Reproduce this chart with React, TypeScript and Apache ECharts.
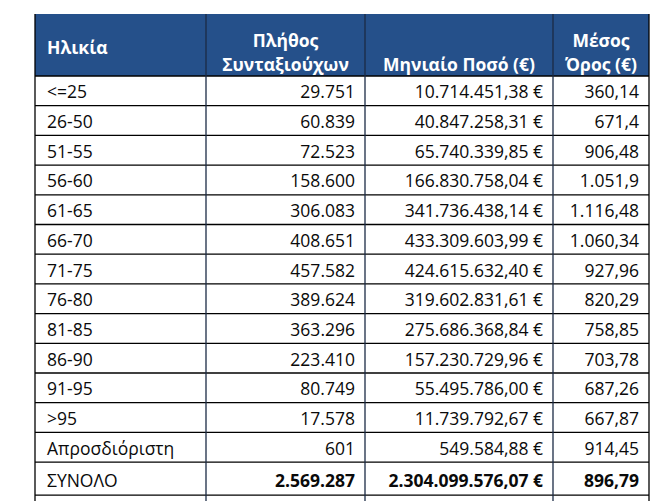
import React, { useEffect, useRef } from "react";
import * as echarts from "echarts";

const ageGroups = ["<=25", "26-50", "51-55", "56-60", "61-65", "66-70", "71-75", "76-80", "81-85", "86-90", "91-95", ">95", "Απροσδιόριστη"];
const pensioners = [29751, 60839, 72523, 158600, 306083, 408651, 457582, 389624, 363296, 223410, 80749, 17578, 601];
const monthlyAmounts = [10714451.38, 40847258.31, 65740339.85, 166830758.04, 341736438.14, 433309603.99, 424615632.40, 319602831.61, 275686368.84, 157230729.96, 55495786.00, 11739792.67, 549584.88];
const averages = [360.14, 671.4, 906.48, 1051.9, 1116.48, 1060.34, 927.96, 820.29, 758.85, 703.78, 687.26, 667.87, 914.45];
const totalLabel = "ΣΥΝΟΛΟ";
const totalPensioners = 2569287;
const totalAmount = 2304099576.07;
const totalAverage = 896.79;
const headers = [["Ηλικία"], ["Πλήθος", "Συνταξιούχων"], ["", "Μηνιαίο Ποσό (€)"], ["Μέσος", "Όρος (€)"]];

function groupThousands(intStr: string): string {
  return intStr.replace(/\B(?=(\d{3})+(?!\d))/g, ".");
}
function fmtInt(v: number): string {
  return groupThousands(Math.round(v).toString());
}
function fmtMoney(v: number): string {
  const [i, d] = v.toFixed(2).split(".");
  return groupThousands(i) + "," + d + " €";
}
function fmtAvg(v: number): string {
  let [i, d] = v.toFixed(2).split(".");
  d = d.replace(/0+$/, "");
  return groupThousands(i) + (d ? "," + d : "");
}

const FONT_FAMILY = "'Open Sans', 'Noto Sans', sans-serif";

export default function App() {
  const ref = useRef<HTMLDivElement>(null);
  useEffect(() => {
    if (!ref.current) return;
    const chart = echarts.init(ref.current, undefined, { renderer: "svg" });
    const colX = [35, 206, 365, 553, 649];
    const top = 14;
    const headerBottom = 76;
    const rowH = 29.7;
    const totalH = 33;
    const headColor = "#25508A";
    const textColor = "#0a0a0a";
    const fontSize = 17.5;
    const elements: any[] = [];

    elements.push({ type: "rect", shape: { x: colX[0], y: top, width: colX[4] - colX[0], height: headerBottom - top }, style: { fill: headColor } });

    const rowsY: number[] = [];
    for (let i = 0; i <= ageGroups.length; i++) rowsY.push(headerBottom + i * rowH);
    const bottom = rowsY[rowsY.length - 1] + totalH;

    const txt = (text: string, x: number, y: number, align: string, bold: boolean, color: string) => ({
      type: "text",
      style: {
        text, x, y, fill: color,
        font: `${bold ? "bold " : ""}${fontSize}px ${FONT_FAMILY}`,
        textAlign: align, textVerticalAlign: "middle", align, verticalAlign: "middle",
      },
    });

    elements.push(txt(headers[0][0], colX[0] + 12, 47, "left", true, "#ffffff"));
    for (let c = 1; c < 4; c++) {
      const cx = (colX[c] + colX[c + 1]) / 2;
      const lines = headers[c];
      if (lines[0]) elements.push(txt(lines[0], cx, 40, "center", true, "#ffffff"));
      elements.push(txt(lines[1], cx, 64, "center", true, "#ffffff"));
    }

    const rows: string[][] = ageGroups.map((g, i) => [g, fmtInt(pensioners[i]), fmtMoney(monthlyAmounts[i]), fmtAvg(averages[i])]);
    rows.forEach((r, i) => {
      const cy = rowsY[i] + rowH / 2 + 0.5;
      elements.push(txt(r[0], colX[0] + 12, cy, "left", false, textColor));
      for (let c = 1; c < 4; c++) elements.push(txt(r[c], colX[c + 1] - 10, cy, "right", false, textColor));
    });
    const tY = rowsY[rowsY.length - 1] + totalH / 2 + 1;
    elements.push(txt(totalLabel, colX[0] + 12, tY, "left", false, textColor));
    elements.push(txt(fmtInt(totalPensioners), colX[2] - 10, tY, "right", true, textColor));
    elements.push(txt(fmtMoney(totalAmount), colX[3] - 10, tY, "right", true, textColor));
    elements.push(txt(fmtAvg(totalAverage), colX[4] - 10, tY, "right", true, textColor));

    const lineStyle = { stroke: "#000000", lineWidth: 1.3 };
    const hl = (y: number) => ({ type: "line", shape: { x1: colX[0], y1: y, x2: colX[4], y2: y }, style: lineStyle });
    elements.push(hl(headerBottom));
    rowsY.slice(1).forEach((y) => elements.push(hl(y)));
    elements.push(hl(bottom));
    colX.forEach((x, i) => {
      elements.push({ type: "line", shape: { x1: x, y1: top, x2: x, y2: bottom + 6 }, style: { stroke: i === 0 || i === 4 ? "#000" : "#1b2a44", lineWidth: 1.3 } });
    });

    chart.setOption({
      animation: false,
      backgroundColor: "#ffffff",
      graphic: { elements },
    });
    return () => chart.dispose();
  }, []);
  return <div ref={ref} style={{ position: "fixed", left: 0, top: 0, width: 667, height: 501 }} />;
}
